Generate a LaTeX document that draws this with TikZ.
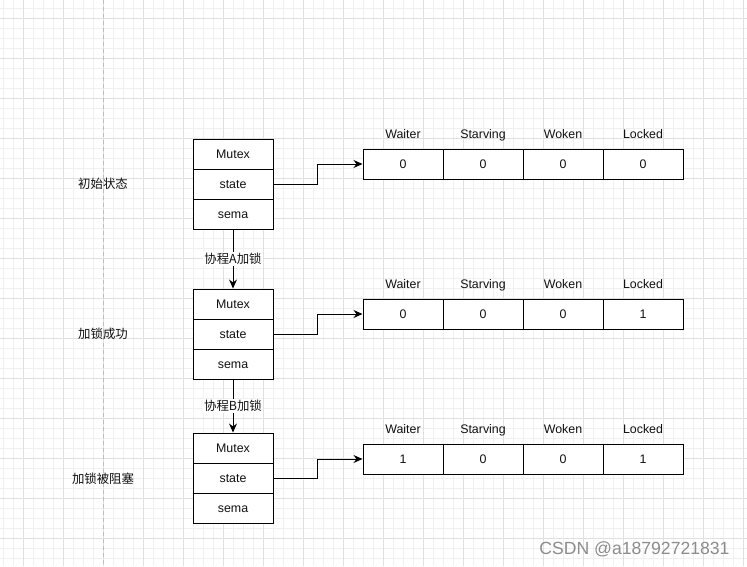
\documentclass[tikz,border=0pt]{standalone}
\usepackage{fontspec}
\setmainfont{Liberation Sans}
\newfontfamily\cjk{Noto Sans CJK SC}
\usetikzlibrary{arrows.meta}
\definecolor{gminor}{HTML}{F0F0F0}
\definecolor{gmajor}{HTML}{E0E0E0}
\definecolor{gdash}{HTML}{BDBDBD}
\definecolor{wm}{HTML}{8C8C8C}
\definecolor{ink}{HTML}{111111}
\tikzset{
  cell/.style={draw=black, line width=1pt, fill=white, minimum width=80pt, minimum height=30pt, inner sep=0pt, text=ink, text height=10pt, text depth=1.1pt, font=\fontsize{12.4}{14}\selectfont},
  lbl/.style={font=\fontsize{12.4}{14}\selectfont, text=ink, inner sep=1pt, text height=10pt, text depth=1.1pt},
  cjklbl/.style={font=\fontsize{12.4}{14}\selectfont\cjk, text=ink, inner sep=1pt},
  conn/.style={draw=black, line width=1pt, -{Stealth[length=9pt,width=8pt]}},
  minorline/.style={draw=gminor, line width=0.8pt},
  majorline/.style={draw=gmajor, line width=1pt},
}
\begin{document}
\begin{tikzpicture}[x=1pt,y=-1pt]
\fill[white] (0,0) rectangle (747,566);
\useasboundingbox (0,0) rectangle (747,566);
% grid
\foreach \k in {0,...,74} \draw[minorline] ({3.3+10*\k},0) -- ({3.3+10*\k},566);
\foreach \k in {0,...,55} \draw[minorline] (0,{8.3+10*\k}) -- (747,{8.3+10*\k});
\foreach \k in {0,...,18} \draw[majorline] ({23.3+40*\k},0) -- ({23.3+40*\k},566);
\foreach \k in {0,...,13} \draw[majorline] (0,{18.3+40*\k}) -- (747,{18.3+40*\k});
\draw[gdash, line width=1pt, dash pattern=on 4pt off 3pt] (103.3,0) -- (103.3,566);

% side labels
\node[cjklbl] (t1) at (103,184) {初始状态};
\node[cjklbl] (t2) at (103,334) {加锁成功};
\node[cjklbl] (t3) at (103,479) {加锁被阻塞};

% mutex stacks
\node[cell] (m1) at (233,154) {Mutex};
\node[cell] (s1) at (233,184) {state};
\node[cell] (e1) at (233,214) {sema};
\node[cell] (m2) at (233,304) {Mutex};
\node[cell] (s2) at (233,334) {state};
\node[cell] (e2) at (233,364) {sema};
\node[cell] (m3) at (233,448) {Mutex};
\node[cell] (s3) at (233,478) {state};
\node[cell] (e3) at (233,508) {sema};

% arrays
\foreach \r/\y/\a/\b/\c/\d in {1/164/0/0/0/0, 2/314/0/0/0/1, 3/459/1/0/0/1}{
  \node[cell] (w\r) at (403,\y) {\a};
  \node[cell] (v\r) at (483,\y) {\b};
  \node[cell] (k\r) at (563,\y) {\c};
  \node[cell] (l\r) at (643,\y) {\d};
  \node[lbl] (hw\r) at (403,\y-30) {Waiter};
  \node[lbl] (hv\r) at (483,\y-30) {Starving};
  \node[lbl] (hk\r) at (563,\y-30) {Woken};
  \node[lbl] (hl\r) at (643,\y-30) {Locked};
}

% connectors state -> array
\draw[conn] (s1.east) -| ([xshift=-45pt]w1.west) -- (w1.west);
\draw[conn] (s2.east) -| ([xshift=-45pt]w2.west) -- (w2.west);
\draw[conn] (s3.east) -| ([xshift=-45pt]w3.west) -- (w3.west);

% vertical connectors
\draw[conn] (e1.south) -- (m2.north) node[midway, fill=white, cjklbl] (c1) {协程A加锁};
\draw[conn] (e2.south) -- (m3.north) node[midway, fill=white, cjklbl] (c2) {协程B加锁};

% watermark
\node[text=wm, font=\fontsize{17.6}{20}\selectfont, inner sep=0pt] (wmk) at (634.5,549.5) {CSDN @a18792721831};
\end{tikzpicture}
\end{document}
